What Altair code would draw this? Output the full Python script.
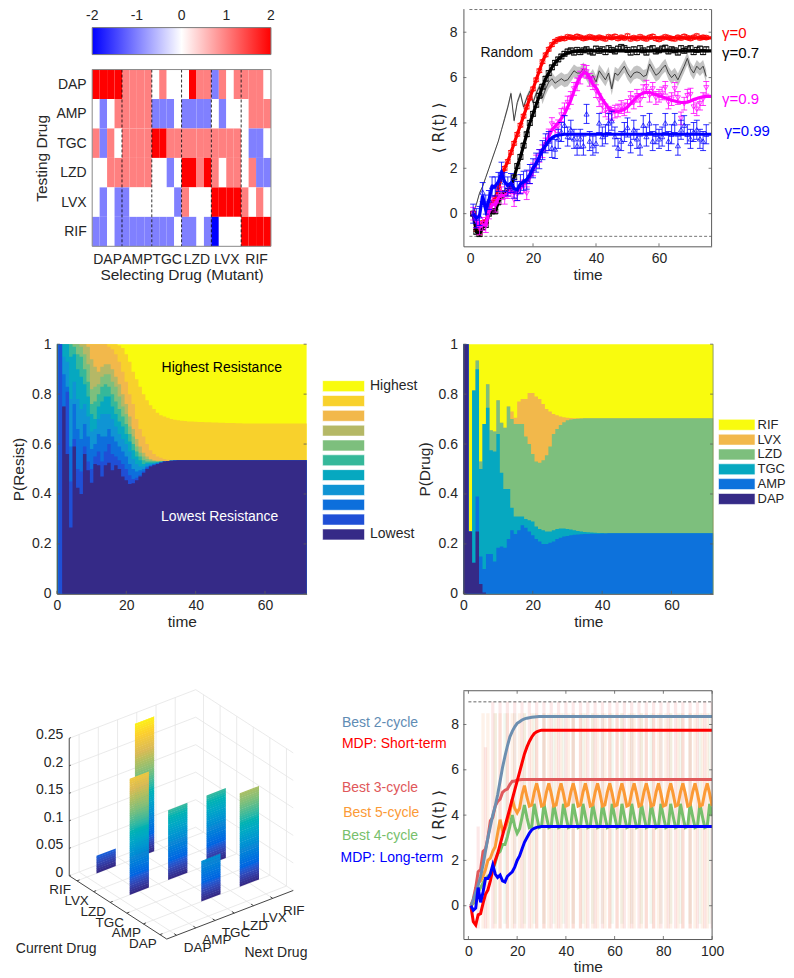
import altair as alt
import numpy as np
import pandas as pd

FONT = "Liberation Sans"
INK = "#262626"
FRAME = "#5a5a5a"
DRUGS = ["DAP", "AMP", "TGC", "LZD", "LVX", "RIF"]

# ---------- panel A: collateral sensitivity heat map ----------
HEAT_DAP = [2, 2, 2, 2, 1, 1, 1, 1, 0, 1, 0, 0, 0, 2, 1, 1, -1, 1, 0, 1, 1, 1, 1, 0]
HEAT_AMP = [0, -1, 0, 1, 1, 1, 1, 1, -1, -1, -1, 0, -1, -1, -1, -1, 0, -1, 0, 0, 0, 1, 1, 1]
HEAT_TGC = [1, -1, 1, 0, 1, 1, 1, 1, 2, 2, 1, 1, 1, 1, 1, 1, 1, 1, 1, 1, 0, -1, -1, 0]
HEAT_LZD = [0, 0, 1, 1, 1, 1, 1, 1, 0, 0, -1, 0, 2, 2, 1, 2, 1, 0, 1, 1, 0, 1, -1, -1]
HEAT_LVX = [0, -1, 0, -1, -1, 0, 0, 0, 0, 0, 0, -1, 1, 0, 0, 0, 2, 2, 2, 2, 1, 0, 1, 0]
HEAT_RIF = [-1, -1, 0, -1, -1, -1, -1, -1, -1, -1, -1, 0, -1, -1, 0, -1, -2, 0, 0, 0, 2, 2, 2, 2]
HEAT_ROWS = [HEAT_DAP, HEAT_AMP, HEAT_TGC, HEAT_LZD, HEAT_LVX, HEAT_RIF]
HEAT_DOMAIN = [-2, -1, 0, 1, 2]
HEAT_RANGE = ["#0000ff", "#8080ff", "#ffffff", "#ff8080", "#ff0000"]

# ---------- panel B: resistance against time ----------
RED_LINE = [0, -0.7, -0.85, -0.4, -0.35, 0.1, 0.5, 0.7, 1.1, 1.6, 2.0, 2.3, 2.7, 3.1, 3.5, 3.9, 4.3, 4.7, 5.1, 5.5,
            5.9, 6.3, 6.7, 7.0, 7.25, 7.45, 7.6, 7.68, 7.72] + [7.75] * 48
BLACK_LINE = [0, -0.8, -0.9, -0.6, -0.5, 0, 0.1, 0.1, 0.5, 0.8, 0.9, 1.0, 1.2, 1.6, 2.1, 2.5, 3.0, 3.5, 4.0, 4.4,
              4.8, 5.2, 5.6, 5.95, 6.2, 6.45, 6.65, 6.8, 6.93, 7.02, 7.08, 7.12, 7.15] + [7.18] * 44
MAGENTA_LINE = [0, -0.3, -0.6, -0.5, -0.5, 0.1, 0.4, 0.4, 0.7, 0.8, 0.8, 0.9, 1.0, 0.9, 1.0, 1.1, 1.3, 1.4, 1.6, 1.9,
                2.2, 2.5, 2.8, 3.1, 3.4, 3.7, 3.85, 4.0, 4.2, 4.4, 4.7, 5.0, 5.4, 5.75, 6.05, 6.2, 6.2, 6.0, 5.7, 5.55,
                5.3, 5.05, 4.85, 4.65, 4.55, 4.5, 4.5, 4.55, 4.6, 4.7, 4.85, 5.0, 5.15, 5.25, 5.32, 5.35, 5.35, 5.3,
                5.25, 5.2, 5.15, 5.1, 5.05, 5.0, 4.97, 4.93, 4.9, 4.9, 4.92, 4.97, 5.03, 5.08, 5.12, 5.15, 5.17, 5.17, 5.17]
BLUE_LINE = [0, -0.2, -0.1, 0.8, 0.15, 0.6, 1.2, 1.2, 1.4, 1.8, 1.4, 1.25, 1.35, 1.1, 1.05, 1.3, 1.4, 1.5, 1.7, 2.0,
             2.2, 2.5, 2.8, 3.0, 3.2, 3.35, 3.42, 3.46, 3.48] + [3.5] * 48
RANDOM_LINE = [0, 0.4, 0.9, 1.2, 1.6, 2.0, 2.4, 2.8, 3.2, 3.7, 4.2, 4.7, 5.3, 4.1, 4.9, 5.3, 4.7, 5.1, 5.4, 4.9,
               5.3, 5.6, 5.1, 5.5, 5.8, 5.95, 5.75, 5.85, 5.95, 5.85, 5.9, 6.1, 6.3, 6.2, 6.2, 6.4, 6.15, 5.9, 6.1, 5.8,
               6.3, 6.1, 5.9, 6.2, 5.5, 6.2, 6.1, 6.3, 6.5, 6.2, 6.0, 6.2, 6.25, 6.2, 6.05, 6.1, 6.6, 6.35, 6.1, 6.2,
               6.4, 6.55, 6.2, 6.0, 6.15, 5.9, 6.2, 6.5, 6.85, 6.4, 6.2, 6.5, 6.35, 6.5, 6.05]
RANDOM_HALF = [0.05] * 10 + [0.12] * 12 + [0.28] * 53
RED_TAIL = [7.72, 7.80, 7.78, 7.75, 7.82, 7.78, 7.72, 7.75, 7.80, 7.76, 7.72, 7.78, 7.74, 7.70, 7.80, 7.76, 7.82, 7.72,
            7.78, 7.74, 7.84, 7.70, 7.76, 7.72, 7.80, 7.74, 7.70, 7.78, 7.82, 7.72, 7.68, 7.74, 7.80, 7.76, 7.72, 7.70,
            7.78, 7.74, 7.82, 7.76, 7.72, 7.78, 7.84, 7.74, 7.78, 7.76]
BLACK_TAIL = [7.05, 7.15, 7.2, 7.1, 7.22, 7.12, 7.2, 7.25, 7.15, 7.1, 7.28, 7.18, 7.25, 7.12, 7.3, 7.22, 7.15, 7.28,
              7.35, 7.3, 7.22, 7.1, 7.25, 7.12, 7.3, 7.2, 7.1, 7.25, 7.3, 7.15, 7.2, 7.28, 7.32, 7.15, 7.25, 7.2, 7.1,
              7.3, 7.18, 7.25, 7.3, 7.12, 7.22, 7.28, 7.12, 7.25]
MAGENTA_POINTS = [0, -0.35, -0.65, -0.45, -0.55, 0.05, 0.45, 0.35, 0.75, 0.9, 0.7, 0.95, 1.05, 0.6, 0.85, 1.15, 1.2, 0.9,
                  1.6, 1.95, 2.3, 2.55, 2.75, 3.05, 3.45, 3.95, 3.7, 3.85, 4.35, 4.6, 4.9, 5.1, 5.5, 5.7, 6.0, 6.3, 6.25,
                  5.9, 5.75, 5.4, 5.0, 4.75, 4.55, 4.45, 4.4, 4.5, 4.55, 4.7, 4.6, 4.75, 5.1, 4.9, 5.2, 5.0, 5.4, 5.6, 5.2,
                  5.5, 5.1, 5.2, 5.3, 5.55, 4.9, 5.05, 5.5, 5.1, 4.2, 4.85, 5.2, 5.25, 4.7, 4.6, 4.85, 5.05, 5.55]
BLUE_POINTS = [0, -0.2, -0.1, 0.95, 0.4, 0.6, 1.2, 1.2, 1.4, 1.85, 1.4, 1.2, 1.35, 1.1, 1.0, 1.3, 1.45, 1.5, 1.75, 2.0,
               2.25, 2.4, 2.8, 3.1, 3.2, 2.9, 2.85, 3.3, 3.6, 3.9, 3.4, 3.7, 3.3, 3.0, 3.3, 3.0, 4.4, 3.2, 3.0, 3.1,
               4.0, 3.4, 3.5, 4.0, 4.1, 3.4, 2.9, 3.2, 3.6, 3.8, 3.1, 3.7, 3.3, 3.0, 3.9, 3.4, 4.0, 3.2, 3.5, 3.3,
               3.4, 4.0, 3.2, 3.5, 4.0, 3.0, 3.7, 3.9, 3.5, 3.3, 3.6, 3.7, 3.3, 3.2, 3.5]

# ---------- panel C: P(Resist) band tops, time steps 2..30, lowest to 9th band ----------
RESIST_ROWS = [
    [.75, .75, .88, .95, 1, 1, 1, 1, 1], [.56, .81, .83, .93, 1, 1, 1, 1, 1],
    [.266, .45, .59, .78, .95, 1, 1, 1, 1], [.59, .62, .76, .85, .96, .99, 1, 1, 1],
    [.425, .5, .66, .78, .9, .96, 1, 1, 1], [.40, .49, .62, .74, .87, .95, .99, 1, 1],
    [.56, .59, .68, .76, .84, .9, .96, 1, 1], [.495, .53, .63, .71, .79, .85, .92, .99, 1],
    [.445, .5, .58, .65, .72, .76, .82, .94, 1], [.52, .55, .60, .66, .70, .77, .83, .91, 1],
    [.515, .57, .64, .70, .75, .80, .84, .89, 1], [.47, .53, .63, .72, .77, .83, .87, .91, 1],
    [.515, .57, .63, .72, .79, .84, .88, .92, 1], [.525, .60, .66, .72, .79, .83, .88, .92, .99],
    [.495, .56, .63, .70, .75, .80, .85, .90, .98], [.515, .55, .61, .67, .72, .77, .83, .87, .96],
    [.50, .535, .59, .64, .69, .74, .79, .84, .93], [.47, .52, .57, .62, .67, .71, .75, .80, .89],
    [.455, .50, .55, .60, .64, .68, .72, .76, .85], [.44, .475, .52, .57, .61, .64, .67, .71, .80],
    [.443, .46, .50, .54, .575, .60, .63, .66, .76], [.455, .465, .49, .52, .55, .57, .59, .62, .70],
    [.47, .475, .495, .51, .535, .55, .565, .59, .66], [.485, .49, .50, .51, .52, .535, .55, .565, .63],
    [.50, .505, .51, .52, .525, .53, .54, .55, .60], [.51, .512, .515, .52, .525, .53, .535, .54, .575],
    [.515, .517, .52, .522, .525, .53, .532, .535, .56], [.52, .521, .523, .525, .527, .529, .531, .533, .55],
    [.525, .526, .527, .528, .529, .53, .531, .533, .545],
]
RESIST_LOW_TAIL = [.53, .532, .533, .534] + [.535] * 38
RESIST_NINTH_TAIL = [.54, .537, .535, .535] + [.535] * 38
RESIST_YELLOW = [1] * 18 + [.995, .985, .96, .93, .89, .86, .83, .80, .775, .755, .74, .725, .715, .71, .705, .70, .697,
                            .695, .693, .692, .69, .69, .689, .688, .688, .687, .687, .686, .686, .685, .685, .684, .684,
                            .684, .683, .683] + [.682] * 19
RESIST_COLORS = ["#352a87", "#1f4fd6", "#0d6fdc", "#0f94d4", "#06a8c0", "#35b89a", "#7dbf7d", "#b5b866", "#f2b84b",
                 "#f8d12c", "#f9fb0e"]

# ---------- panel D: P(Drug) band tops per time step: DAP, AMP, TGC, LZD, LVX ----------
DRUG_ROWS = [
    [1, 1, 1, 1, 1], [1, 1, 1, 1, 1], [.25, .25, .25, .25, .25], [.125, .125, .815, .815, .815],
    [.25, .39, .90, .935, .935], [.04, .15, .50, .53, .53], [.005, .10, .68, .68, .68], [0, .16, .745, .84, .84],
    [0, .16, .575, .655, .655], [0, .13, .57, .65, .65], [0, .185, .64, .775, .775], [0, .19, .485, .685, .685],
    [0, .185, .42, .665, .665], [0, .22, .42, .75, .75], [0, .255, .345, .70, .73], [0, .24, .31, .68, .705],
    [0, .255, .31, .68, .77], [0, .275, .31, .68, .78], [0, .265, .30, .63, .78], [0, .25, .295, .60, .805],
    [0, .235, .29, .56, .805], [0, .22, .27, .53, .79], [0, .21, .26, .525, .78], [0, .20, .255, .535, .76],
    [0, .20, .25, .555, .74], [0, .205, .25, .59, .73], [0, .21, .255, .64, .72], [0, .22, .26, .66, .715],
    [0, .225, .262, .676, .71], [0, .23, .262, .687, .707], [0, .232, .26, .695, .705], [0, .235, .258, .698, .704],
    [0, .237, .255, .70, .703], [0, .238, .252, .701, .703], [0, .239, .25, .702, .703], [0, .24, .248, .703, .703],
    [0, .24, .247, .703, .703], [0, .241, .246, .703, .703], [0, .241, .245, .703, .703], [0, .241, .244, .703, .703],
    [0, .242, .244, .703, .703], [0, .242, .243, .703, .703],
] + [[0, .243, .243, .703, .703]] * 31
DRUG_COLORS = ["#352a87", "#0d72dc", "#06a8c0", "#7dbf7d", "#f2b84b", "#f9fb0e"]

# ---------- panel E: transition probabilities, (current drug, next drug, value) ----------
BAR_CURRENT = [6, 6, 4, 4, 4, 2, 2]
BAR_NEXT = [2, 4, 2, 4, 6, 4, 6]
BAR_VALUE = [0.032, 0.245, 0.211, 0.127, 0.127, 0.074, 0.17]
PARULA = ["#352a87", "#0363e1", "#1485d4", "#06a7c6", "#38b99e", "#92bf73", "#d9ba56", "#fcce2e", "#f9fb0e"]

# ---------- panel F: cycles against MDP ----------
TWO_CYCLE = [0, .25, .6, .9, 1.3, 1.8, 2.4, 3.0, 3.5, 4.0, 4.4, 4.9, 5.5, 6.1, 6.6, 7.05, 7.45, 7.7, 7.9, 8.05, 8.12, 8.2,
             8.25, 8.28, 8.3, 8.32, 8.33, 8.34] + [8.35] * 72
THREE_CYCLE = [0, .3, .8, 1.5, 1.6, 2.4, 2.5, 3.0, 3.75, 3.9, 4.4, 4.6, 4.7, 5.0, 5.1, 5.15, 5.35, 5.5, 5.5, 5.55,
               5.56] + [5.57] * 79
FIVE_CYCLE = [0, .2, .6, 1.0, 1.1, 1.3, 1.6, 2.0, 2.1, 2.4, 2.6, 3.2, 3.8, 3.3, 3.4, 3.7, 4.1, 4.7, 4.3, 4.1, 4.3, 4.9,
              5.3, 4.8] + [4.4, 4.45, 5.0, 5.4, 4.95] * 15 + [4.4]
FOUR_CYCLE = [0, .1, .3, .6, .8, 1.0, 1.2, 1.3, 1.4, 1.6, 1.9, 2.3, 2.4, 2.7, 2.7, 3.05, 3.5, 4.0, 3.5, 3.2, 3.4, 3.9,
              4.45, 3.9] + [3.45, 3.5, 4.5, 3.95] * 19
SHORT_TERM = RED_LINE + [7.75] * 23
LONG_TERM = BLUE_LINE + [3.5] * 23
PINK_SPIKE_T = list(range(4, 101, 3))
PINK_SPIKE_TOP = [3.5, 7.0] + [9] * 31
PEACH_SPIKE_T = [t for t in range(6, 100) if t % 5 in (1, 3)]
GREEN_SPIKE_T = list(range(11, 100, 4))


def spacer(w, h):
    return alt.Chart(pd.DataFrame({"a": [0]})).mark_point(opacity=0, size=0, strokeWidth=0).encode(
        x=alt.value(0), y=alt.value(0)).properties(width=w, height=h)


def label(text, px, py, color=INK, size=14, align="left", angle=0, baseline="middle"):
    return alt.Chart(pd.DataFrame({"a": [0]})).mark_text(
        text=text, font=FONT, fontSize=size, color=color, align=align, baseline=baseline, angle=angle
    ).encode(x=alt.value(px), y=alt.value(py))


def box(x1, x2, y1, y2, color):
    return alt.Chart(pd.DataFrame({"a": [0]})).mark_rect(color=color, stroke="#ffffff", strokeWidth=0.6).encode(
        x=alt.value(x1), x2=alt.value(x2), y=alt.value(y1), y2=alt.value(y2))


def seg(x1, x2, y1, y2, color=FRAME, width=1.0):
    return alt.Chart(pd.DataFrame({"a": [0]})).mark_rule(color=color, strokeWidth=width).encode(
        x=alt.value(x1), x2=alt.value(x2), y=alt.value(y1), y2=alt.value(y2))


def axes(xs, ys, xvals, yvals, xtitle, ytitle, w, h, ytx, ytext=None, lab_pad=6):
    """Invisible layer that owns the two axes of a panel."""
    return alt.Chart(pd.DataFrame({"x": [xvals[0]], "y": [yvals[0]]})).mark_point(opacity=0, size=0, strokeWidth=0).encode(
        x=alt.X("x:Q", scale=xs, axis=alt.Axis(
            values=xvals, title=xtitle, grid=False, ticks=False, domainColor=FRAME, labelColor=INK, titleColor=INK,
            labelFont=FONT, titleFont=FONT, labelFontSize=14, titleFontSize=15.5, titleFontWeight="normal",
            labelPadding=5, labelExpr="'' + datum.value", labelFlush=False, labelOverlap=False, zindex=2,
            titleX=w / 2, titleY=28, titleAlign="center", titleBaseline="middle")),
        y=alt.Y("y:Q", scale=ys, axis=alt.Axis(
            values=yvals, title=ytitle, grid=False, ticks=False, domainColor=FRAME, labelColor=INK, titleColor=INK,
            labelFont=FONT, titleFont=ytext or FONT, labelFontSize=14, titleFontSize=15.5, titleFontWeight="normal",
            labelPadding=lab_pad, labelExpr="'' + datum.value", labelFlush=False, labelOverlap=False, zindex=2,
            titleX=ytx, titleY=h / 2, titleAlign="center", titleBaseline="middle")),
    )


def inside_ticks(xs, ys, xvals, yvals, w, h, top=True):
    ydf = pd.DataFrame({"v": yvals})
    xdf = pd.DataFrame({"v": xvals})
    t = [
        alt.Chart(ydf).mark_rule(color=FRAME, strokeWidth=0.8).encode(
            y=alt.Y("v:Q", scale=ys, axis=None), x=alt.value(0), x2=alt.value(3)),
        alt.Chart(ydf).mark_rule(color=FRAME, strokeWidth=0.8).encode(
            y=alt.Y("v:Q", scale=ys, axis=None), x=alt.value(w - 3), x2=alt.value(w)),
        alt.Chart(xdf).mark_rule(color=FRAME, strokeWidth=0.8).encode(
            x=alt.X("v:Q", scale=xs, axis=None), y=alt.value(h - 3), y2=alt.value(h)),
    ]
    if top:
        t.append(alt.Chart(xdf).mark_rule(color=FRAME, strokeWidth=0.8).encode(
            x=alt.X("v:Q", scale=xs, axis=None), y=alt.value(0), y2=alt.value(3)))
    return t


def stacked(layers, w, h):
    return alt.layer(*layers).resolve_axis(x="independent", y="independent").properties(width=w, height=h)


# Left column cells are LEFT_W wide and start 48.7 px into the page; panels place themselves inside the cell.
LEFT_W = 264
COL0 = 48.7

# ---------- heat map with its colour bar above it, both in one cell ----------
HM_L, HM_R, HM_T, HM_B = 35.3, 214.3, 61, 238
CB_T, CB_B = 19, 46
heat_df = pd.DataFrame([
    {"c": c, "c2": c + 1, "r": r, "r2": r + 1, "v": v}
    for r, row in enumerate(HEAT_ROWS) for c, v in enumerate(row)
])
hx = alt.Scale(domain=[0, 24], nice=False, zero=False, range=[HM_L, HM_R])
hy = alt.Scale(domain=[0, 6], nice=False, zero=False, range=[HM_T, HM_B])
heat = alt.Chart(heat_df).mark_rect(strokeWidth=0).encode(
    x=alt.X("c:Q", scale=hx, axis=alt.Axis(
        values=[2, 6, 10, 14, 18, 22], title="Selecting Drug (Mutant)", ticks=False, domain=False, grid=False,
        labelFont=FONT, labelFontSize=14, labelColor=INK, labelPadding=6, labelFlush=False, labelOverlap=False,
        titleFont=FONT, titleFontSize=15.5, titleFontWeight="normal", titleColor=INK,
        labelExpr="['DAP','AMP','TGC','LZD','LVX','RIF'][(datum.value-2)/4]",
        titleX=(HM_L + HM_R) / 2, titleY=28, titleAlign="center", titleBaseline="middle")),
    x2="c2:Q",
    y=alt.Y("r:Q", scale=hy, axis=alt.Axis(
        values=[0.5, 1.5, 2.5, 3.5, 4.5, 5.5], title="Testing Drug", ticks=False, domain=False, grid=False,
        offset=-HM_L,
        labelFont=FONT, labelFontSize=14, labelColor=INK, labelPadding=6, labelOverlap=False, labelFlush=False,
        titleFont=FONT, titleFontSize=15.5, titleFontWeight="normal", titleColor=INK,
        labelExpr="['DAP','AMP','TGC','LZD','LVX','RIF'][datum.value-0.5]",
        titleX=-50.5, titleY=(HM_T + HM_B) / 2, titleAlign="center", titleBaseline="middle")),
    y2="r2:Q",
    color=alt.Color("v:O", scale=alt.Scale(domain=HEAT_DOMAIN, range=HEAT_RANGE), legend=None),
)
heat_dash = alt.Chart(pd.DataFrame({"v": [4, 8, 12, 16, 20]})).mark_rule(
    color="#000000", strokeWidth=0.8, strokeDash=[3, 2]).encode(
    x=alt.X("v:Q", scale=hx, axis=None), y=alt.value(HM_T), y2=alt.value(HM_B))
cbar = alt.Chart(pd.DataFrame({"a": [0]})).mark_rect(
    stroke="#7a7a7a", strokeWidth=1,
    color=alt.Gradient(gradient="linear", x1=0, x2=1, y1=0, y2=0, stops=[
        alt.GradientStop(color=c, offset=(d + 2) / 4) for c, d in zip(HEAT_RANGE, HEAT_DOMAIN)])
).encode(x=alt.value(HM_L), x2=alt.value(HM_R), y=alt.value(CB_T), y2=alt.value(CB_B))
heat_layers = [
    heat, heat_dash, cbar,
    seg(HM_L, HM_R, HM_T, HM_T, "#8a8a8a"), seg(HM_L, HM_R, HM_B, HM_B, "#8a8a8a"),
    seg(HM_L, HM_L, HM_T, HM_B, "#8a8a8a"), seg(HM_R, HM_R, HM_T, HM_B, "#8a8a8a"),
]
for d in HEAT_DOMAIN:
    heat_layers.append(label(str(d), HM_L + (d + 2) / 4 * (HM_R - HM_L), 7.5, INK, 14, "center"))
heat_panel = stacked(heat_layers, LEFT_W, HM_B)

# ---------- panel B ----------
B_W, B_H = 248.5, 238
bx = alt.Scale(domain=[-2.1, 76.7], nice=False, zero=False)
by = alt.Scale(domain=[-1.44, 9.04], nice=False, zero=False)


def series_df(vals):
    return pd.DataFrame({"t": np.arange(1, len(vals) + 1), "v": vals})


def thick(vals, color, xs, ys, width=3.0):
    return alt.Chart(series_df(vals)).mark_line(color=color, strokeWidth=width, clip=True).encode(
        x=alt.X("t:Q", scale=xs, axis=None), y=alt.Y("v:Q", scale=ys, axis=None))


def marked(vals, err, color, shape):
    d = series_df(vals)
    d["lo"] = d["v"] - err
    d["hi"] = d["v"] + err
    x = alt.X("t:Q", scale=bx, axis=None)
    return [
        alt.Chart(d).mark_rule(color=color, strokeWidth=0.9, opacity=0.9).encode(
            x=x, y=alt.Y("lo:Q", scale=by, axis=None), y2="hi:Q"),
        alt.Chart(d).mark_tick(color=color, size=6, thickness=0.9, orient="horizontal", opacity=0.9).encode(
            x=x, y=alt.Y("lo:Q", scale=by, axis=None)),
        alt.Chart(d).mark_tick(color=color, size=6, thickness=0.9, orient="horizontal", opacity=0.9).encode(
            x=x, y=alt.Y("hi:Q", scale=by, axis=None)),
        alt.Chart(d).mark_point(color=color, shape=shape, size=26, strokeWidth=0.8, filled=False, opacity=0.9).encode(
            x=x, y=alt.Y("v:Q", scale=by, axis=None)),
    ]


rnd = series_df(RANDOM_LINE)
rnd["lo"] = rnd["v"] - RANDOM_HALF
rnd["hi"] = rnd["v"] + RANDOM_HALF
b_layers = [
    axes(bx, by, [0, 20, 40, 60], [0, 2, 4, 6, 8], "time", "\u27e8 R(t) \u27e9", B_W, B_H, -25, "DejaVu Sans", 6.5),
    alt.Chart(pd.DataFrame({"v": [9, -1]})).mark_rule(color="#666666", strokeWidth=0.9, strokeDash=[3, 2]).encode(
        y=alt.Y("v:Q", scale=by, axis=None), x=alt.value(6), x2=alt.value(B_W)),
    alt.Chart(rnd).mark_area(color="#b9b9b9", opacity=0.85).encode(
        x=alt.X("t:Q", scale=bx, axis=None), y=alt.Y("lo:Q", scale=by, axis=None), y2="hi:Q"),
    alt.Chart(rnd).mark_line(color="#333333", strokeWidth=0.9).encode(
        x=alt.X("t:Q", scale=bx, axis=None), y=alt.Y("v:Q", scale=by, axis=None)),
]
b_layers += marked(RED_LINE[:29] + RED_TAIL, 0.08, "#ff0000", "circle")
b_layers.append(thick(RED_LINE, "#ff0000", bx, by, 3.2))
b_layers += marked(BLACK_LINE[:29] + BLACK_TAIL, 0.1, "#000000", "square")
b_layers.append(thick(BLACK_LINE, "#000000", bx, by, 3.2))
b_layers += marked(MAGENTA_POINTS, 0.28, "#ff00ff", "triangle-down")
b_layers.append(thick(MAGENTA_LINE, "#ff00ff", bx, by, 3.2))
b_layers += marked(BLUE_POINTS, 0.42, "#0000ff", "triangle-up")
b_layers.append(thick(BLUE_LINE, "#0000ff", bx, by, 3.2))
b_layers += inside_ticks(bx, by, [20, 40, 60], [0, 2, 4, 6, 8], B_W, B_H, top=False)
b_layers += [
    seg(B_W, B_W, 1, B_H, FRAME),
    label("Random", 17, 44, "#111111", 14),
    label("\u03b3=0", 259, 24, "#ff0000", 15),
    label("\u03b3=0.7", 259, 44, "#000000", 15),
    label("\u03b3=0.9", 259, 91, "#ff00ff", 15),
    label("\u03b3=0.99", 261.5, 123, "#0000ff", 15),
]
panel_b = stacked(b_layers, B_W, B_H)

# ---------- panels C and D ----------
S_W, S_H = 250, 250
sx = alt.Scale(domain=[0, 72], nice=False, zero=False, range=[0, S_W])
sy = alt.Scale(domain=[0, 1], nice=False, zero=False)
TIME_STEPS = list(range(73))
Y_TICKS = [0, 0.2, 0.4, 0.6, 0.8, 1]


def band_layer(tops, color):
    d = pd.DataFrame({"t": TIME_STEPS, "top": tops, "base": [0] * len(tops)})
    return alt.Chart(d).mark_area(color=color, interpolate="step", strokeWidth=0).encode(
        x=alt.X("t:Q", scale=sx, axis=None), y=alt.Y("top:Q", scale=sy, axis=None), y2="base:Q")


def resist_band(i):
    if i == 10:
        return [1] * 73
    if i == 9:
        return RESIST_YELLOW
    head = [1, 1] if i >= 2 else ([0, 0] if i == 0 else [0, 1])
    mid = [row[i] for row in RESIST_ROWS]
    tail = RESIST_NINTH_TAIL if i == 8 else RESIST_LOW_TAIL
    return head + mid + tail


c_layers = [band_layer(resist_band(i), RESIST_COLORS[i]) for i in range(10, -1, -1)]
c_layers.append(axes(sx, sy, [0, 20, 40, 60], Y_TICKS, "time", "P(Resist)", S_W, S_H, -38.5))
c_layers += inside_ticks(sx, sy, [0, 20, 40, 60], Y_TICKS, S_W, S_H, top=False)
c_layers += [
    label("Highest Resistance", 165, 24, "#000000", 14, "center"),
    label("Lowest Resistance", 163, 173, "#ffffff", 14, "center"),
]
for i, c in enumerate(reversed(RESIST_COLORS)):
    cy = 42 + i * 14.85
    c_layers.append(box(266, 308, cy - 5.5, cy + 5.5, c))
c_layers += [label("Highest", 313.5, 41.5, INK, 14), label("Lowest", 313.5, 190, INK, 14)]
panel_c = stacked(c_layers, LEFT_W, S_H)

d_layers = [band_layer([1] * 73, DRUG_COLORS[5])]
for i in range(4, -1, -1):
    d_layers.append(band_layer([row[i] for row in DRUG_ROWS], DRUG_COLORS[i]))
d_layers.append(axes(sx, sy, [0, 20, 40, 60], Y_TICKS, "time", "P(Drug)", S_W, S_H, -38.5))
d_layers += inside_ticks(sx, sy, [0, 20, 40, 60], Y_TICKS, S_W, S_H, top=False)
d_layers.append(seg(S_W, S_W, 0, S_H, "#7a8a5a", 0.8))
for i, (name, c) in enumerate(zip(reversed(DRUGS), reversed(DRUG_COLORS))):
    cy = 80.7 + i * 14.85
    d_layers.append(box(255.4, 292, cy - 5.5, cy + 5.5, c))
    d_layers.append(label(name, 294.5, cy, INK, 13))
panel_d = stacked(d_layers, S_W, S_H)

# ---------- panel F geometry (row height comes from it) ----------
F_W, F_H = 249, 248.6
F_DOWN = 10.7     # panel E starts this far above panel F

# ---------- panel E: oblique 3-D projection ----------
E_W, E_H = 312, 298
BOTTOM = np.array([500.0, 778.0]) / 3
LEFT_DIR = np.array([-293.0, -190.0]) / 3
RIGHT_DIR = np.array([380.0, -146.0]) / 3
Z_PX = 550.8


def proj(fc, fn, z=0.0):
    p = BOTTOM + fc * LEFT_DIR + fn * RIGHT_DIR
    return float(p[0] - 8), float(p[1] - z * Z_PX)


def fc_of(i):
    return 0.07 + 0.17 * (i - 1)


def fn_of(i):
    return 0.078 + 0.152 * (i - 1)


ex = alt.Scale(domain=[0, E_W], nice=False, zero=False, range=[-COL0, E_W - COL0])
ey = alt.Scale(domain=[0, E_H], nice=False, zero=False, range=[-F_DOWN, E_H - F_DOWN])


def line_rows(pairs):
    rows = []
    for a, b in pairs:
        rows.append({"x": a[0], "y": a[1], "x2": b[0], "y2": b[1]})
    return pd.DataFrame(rows)


def rule_layer(pairs, color, width):
    return alt.Chart(line_rows(pairs)).mark_rule(color=color, strokeWidth=width).encode(
        x=alt.X("x:Q", scale=ex, axis=None), x2="x2:Q", y=alt.Y("y:Q", scale=ey, axis=None), y2="y2:Q")


Z_TICKS = [0, 0.05, 0.1, 0.15, 0.2, 0.25]
grid_pairs = []
for i in range(1, 7):
    grid_pairs.append((proj(fc_of(i), 0), proj(fc_of(i), 1)))
    grid_pairs.append((proj(0, fn_of(i)), proj(1, fn_of(i))))
    grid_pairs.append((proj(1, fn_of(i)), proj(1, fn_of(i), 0.25)))
    grid_pairs.append((proj(fc_of(i), 1), proj(fc_of(i), 1, 0.25)))
for z in Z_TICKS:
    grid_pairs.append((proj(1, 0, z), proj(1, 1, z)))
    grid_pairs.append((proj(1, 1, z), proj(0, 1, z)))
axis_pairs = [(proj(1, 0), proj(0, 0)), (proj(0, 0), proj(0, 1)), (proj(1, 0), proj(1, 0, 0.25))]
for i in range(1, 7):
    axis_pairs.append((proj(fc_of(i), 0), proj(fc_of(i), 0.02)))
    axis_pairs.append((proj(0, fn_of(i)), proj(0.025, fn_of(i))))
for z in Z_TICKS:
    axis_pairs.append((proj(1, 0, z), proj(1, 0.012, z)))

e_layers = [rule_layer(grid_pairs, "#e4e4e4", 0.8), rule_layer(axis_pairs, "#444444", 1.0)]
for bar, (cur, nxt, val) in enumerate(zip(BAR_CURRENT, BAR_NEXT, BAR_VALUE)):
    rows = []
    levels = np.arange(0, val, 0.004)
    for s, z0 in enumerate(levels):
        z1 = min(z0 + 0.0048, val)
        for fn in (fn_of(nxt) - 0.076, fn_of(nxt) + 0.076):
            x, y = proj(fc_of(cur), fn, z0)
            _, y2 = proj(fc_of(cur), fn, z1)
            rows.append({"x": x, "y": y, "y2": y2, "s": s, "z": z0})
    e_layers.append(alt.Chart(pd.DataFrame(rows)).mark_area(strokeWidth=0).encode(
        x=alt.X("x:Q", scale=ex, axis=None),
        y=alt.Y("y:Q", scale=ey, axis=None), y2="y2:Q",
        detail="s:N",
        color=alt.Color("z:Q", scale=alt.Scale(domain=[float(v) for v in np.linspace(0, 0.25, len(PARULA))], range=PARULA), legend=None),
    ))
text_rows = []
for i, d in enumerate(DRUGS, start=1):
    x, y = proj(fc_of(i), 0)
    text_rows.append({"x": x - 17, "y": y + 9.5, "t": d})
    x, y = proj(0, fn_of(i))
    text_rows.append({"x": x + 21, "y": y + 12.5, "t": d})
e_layers.append(alt.Chart(pd.DataFrame(text_rows)).mark_text(font=FONT, fontSize=13.5, color=INK).encode(
    x=alt.X("x:Q", scale=ex, axis=None), y=alt.Y("y:Q", scale=ey, axis=None), text="t:N"))
z_rows = [{"x": proj(1, 0)[0] - 6, "y": proj(1, 0, z)[1] - 3, "t": f"{z:g}"} for z in Z_TICKS]
e_layers.append(alt.Chart(pd.DataFrame(z_rows)).mark_text(font=FONT, fontSize=14, color=INK, align="right").encode(
    x=alt.X("x:Q", scale=ex, axis=None), y=alt.Y("y:Q", scale=ey, axis=None), text="t:N"))
e_layers += [
    label("Current Drug", 56 - 8 - COL0, 269 - F_DOWN, INK, 14, "center"),
    label("Next Drug", 276 - 8 - COL0, 273 - F_DOWN, INK, 14, "center"),
]
panel_e = stacked(e_layers, LEFT_W, F_H)

# ---------- panel F ----------
fx = alt.Scale(domain=[-2.05, 100], nice=False, zero=False)
fy = alt.Scale(domain=[-1.47, 9.49], nice=False, zero=False)


def spikes(ts, tops, low, color, opacity, width=3.2):
    d = pd.DataFrame({"t": ts, "top": tops, "low": [low] * len(ts)})
    return alt.Chart(d).mark_rule(color=color, opacity=opacity, strokeWidth=width, clip=True).encode(
        x=alt.X("t:Q", scale=fx, axis=None), y=alt.Y("low:Q", scale=fy, axis=None), y2="top:Q")


FX_TICKS = [0, 20, 40, 60, 80, 100]
FY_TICKS = [0, 2, 4, 6, 8]
f_layers = [
    axes(fx, fy, FX_TICKS, FY_TICKS, "time", "\u27e8 R(t) \u27e9", F_W, F_H, -25, "DejaVu Sans", 5),
    spikes(PEACH_SPIKE_T, [8.5] * len(PEACH_SPIKE_T), -1, "#f7b27a", 0.17, 3.4),
    spikes(GREEN_SPIKE_T, [8.5] * len(GREEN_SPIKE_T), -0.8, "#a9d8a2", 0.14, 3.4),
    spikes(PINK_SPIKE_T, PINK_SPIKE_TOP, -1, "#f28a8a", 0.2, 3.2),
    alt.Chart(pd.DataFrame({"v": [9]})).mark_rule(color="#555555", strokeWidth=0.9, strokeDash=[3, 2]).encode(
        y=alt.Y("v:Q", scale=fy, axis=None), x=alt.value(5), x2=alt.value(F_W)),
    thick(FOUR_CYCLE, "#77bf6c", fx, fy),
    thick(FIVE_CYCLE, "#fb9a36", fx, fy),
    thick(THREE_CYCLE, "#e05a5c", fx, fy),
    thick(TWO_CYCLE, "#6d8fb0", fx, fy),
    thick(SHORT_TERM, "#ff0000", fx, fy),
    thick(LONG_TERM, "#0000ff", fx, fy),
]
f_layers += inside_ticks(fx, fy, FX_TICKS, FY_TICKS, F_W, F_H, top=True)
f_layers += [
    seg(F_W, F_W, 0, F_H, FRAME), seg(0, F_W, 0, 0, FRAME),
    label("Best 2-cycle", -121.6, 32.3, "#5f8cb4"),
    label("MDP: Short-term", -121.6, 53.6, "#ff0000"),
    label("Best 3-cycle", -121.6, 97, "#e0575a"),
    label("Best 5-cycle", -120.3, 122, "#fb9a36"),
    label("Best 4-cycle", -121.6, 145.3, "#77bf6c"),
    label("MDP: Long-term", -123, 167, "#0000ff"),
]
panel_f = stacked(f_layers, F_W, F_H)

# ---------- assemble: 4 columns, 5 rows ----------
GAP_W = 142.8
cells = [
    spacer(COL0, 1), heat_panel, spacer(GAP_W, 1), panel_b,
    spacer(COL0, 98), spacer(LEFT_W, 98), spacer(GAP_W, 98), spacer(S_W, 98),
    spacer(COL0, 1), panel_c, spacer(GAP_W, 1), panel_d,
    spacer(COL0, 96.7), spacer(LEFT_W, 96.7), spacer(GAP_W, 96.7), spacer(S_W, 96.7),
    spacer(COL0, 1), panel_e, spacer(GAP_W, 1), panel_f,
]
chart = alt.concat(*cells, columns=4, spacing=0, bounds="flush").resolve_scale(
    color="independent"
).configure_view(stroke=None).properties(padding=0)
chart.save("out.html", embed_options={"renderer": "svg", "actions": False})
